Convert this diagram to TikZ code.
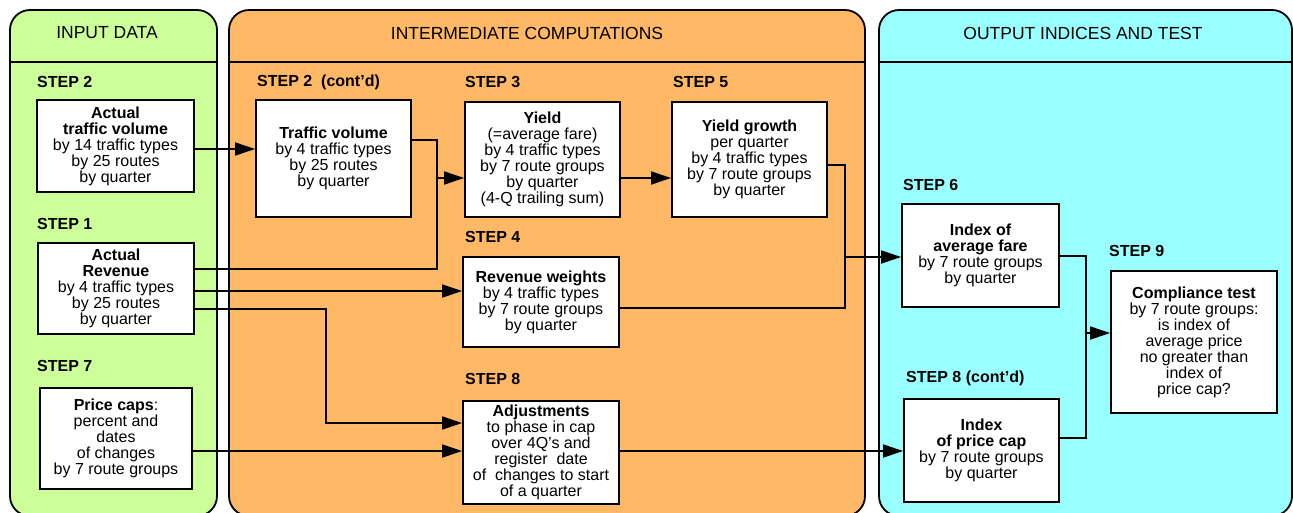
\documentclass[tikz,border=0pt]{standalone}
\usepackage{fontspec}
\setmainfont{Liberation Sans}
\usetikzlibrary{arrows.meta}
\definecolor{pgreen}{RGB}{204,255,153}
\definecolor{porange}{RGB}{255,184,102}
\definecolor{pcyan}{RGB}{153,255,255}
\begin{document}
\begin{tikzpicture}[x=1pt,y=-1pt,
  panel/.style={draw=black,line width=1.8pt,rounded corners=20pt},
  hdr/.style={font=\fontsize{17.5}{20}\selectfont,anchor=center,inner sep=0pt},
  steplabel/.style={font=\fontsize{16}{16}\selectfont\bfseries,anchor=west,inner sep=0pt},
  box/.style={draw=black,fill=white,line width=1.8pt,align=center,inner sep=0pt,
    font=\fontsize{16}{16}\selectfont},
  ln/.style={line width=1.8pt},
  arr/.style={line width=1.8pt,-{Triangle[length=20pt,width=13pt]}}]
\useasboundingbox (0,0) rectangle (1293,512);
% panels
\draw[panel,fill=pgreen] (10,10) rectangle (217,516);
\draw[panel,fill=porange] (229,10) rectangle (865,516);
\draw[panel,fill=pcyan] (879,10) rectangle (1292,516);
\draw[ln] (10,62) -- (217,62);
\draw[ln] (229,62) -- (865,62);
\draw[ln] (879,62) -- (1292,62);
\node[hdr] (h1) at (107,33) {INPUT DATA};
\node[hdr] (h2) at (527,33) {INTERMEDIATE COMPUTATIONS};
\node[hdr] (h3) at (1083,33) {OUTPUT INDICES AND TEST};
% step labels
\node[steplabel] (s2) at (37,82) {STEP 2};
\node[steplabel] (s1) at (37,224) {STEP 1};
\node[steplabel] (s7) at (37,366) {STEP 7};
\node[steplabel] (s2c) at (257,82) {STEP 2\ \ (cont’d)};
\node[steplabel] (s3) at (465,82) {STEP 3};
\node[steplabel] (s5) at (673,82) {STEP 5};
\node[steplabel] (s4) at (465,237) {STEP 4};
\node[steplabel] (s8) at (465,379) {STEP 8};
\node[steplabel] (s6) at (903,185) {STEP 6};
\node[steplabel] (s9) at (1109,251) {STEP 9};
\node[steplabel] (s8c) at (906,378) {STEP 8 (cont’d)};
% boxes
\node[box,minimum width=157pt,minimum height=92pt] (atv) at (115.5,146)
  {\textbf{Actual}\\\textbf{traffic volume}\\by 14 traffic types\\by 25 routes\\by quarter};
\node[box,minimum width=156pt,minimum height=91pt] (rev) at (116,288.5)
  {\textbf{Actual}\\\textbf{Revenue}\\by 4 traffic types\\by 25 routes\\by quarter};
\node[box,minimum width=152pt,minimum height=101pt] (pc) at (116,438.5)
  {\textbf{Price caps}:\\percent and\\dates\\of changes\\by 7 route groups};
\node[box,minimum width=155pt,minimum height=117pt] (tv) at (333.5,158.5)
  {\textbf{Traffic volume}\\by 4 traffic types\\by 25 routes\\by quarter};
\node[box,minimum width=155pt,minimum height=115pt] (yield) at (542.5,159.5)
  {\textbf{Yield}\\(=average fare)\\by 4 traffic types\\by 7 route groups\\by quarter\\(4-Q trailing sum)};
\node[box,minimum width=155pt,minimum height=115pt] (yg) at (749.5,159.5)
  {\textbf{Yield growth}\\per quarter\\by 4 traffic types\\by 7 route groups\\by quarter};
\node[box,minimum width=156pt,minimum height=90pt] (rw) at (541,302)
  {\textbf{Revenue weights}\\by 4 traffic types\\by 7 route groups\\by quarter};
\node[box,minimum width=156pt,minimum height=103pt] (adj) at (541,452.5)
  {\textbf{Adjustments}\\to phase in cap\\over 4Q’s and\\register\ \ date\\of\ \ changes to start\\of a quarter};
\node[box,minimum width=157pt,minimum height=103pt] (iaf) at (980.5,255.5)
  {\textbf{Index of}\\\textbf{average fare}\\by 7 route groups\\by quarter};
\node[box,minimum width=166pt,minimum height=142pt] (ct) at (1194,342)
  {\textbf{Compliance test}\\by 7 route groups:\\is index of\\average price\\no greater than\\index of\\price cap?};
\node[box,minimum width=155pt,minimum height=103pt] (ipc) at (981.5,450.5)
  {\textbf{Index}\\\textbf{of price cap}\\by 7 route groups\\by quarter};
% connector coordinates
\coordinate (a1) at (200,149);
\coordinate (ja) at (437,140);
\coordinate (jb) at (437,269);
\coordinate (jc) at (437,178);
\coordinate (r2) at (300,291);
\coordinate (k1) at (326,309);
\coordinate (k2) at (326,423);
\coordinate (p1) at (300,451);
\coordinate (y1) at (640,178);
\coordinate (m1) at (845,165);
\coordinate (m2) at (845,308);
\coordinate (m3) at (845,257);
\coordinate (n1) at (1086,256);
\coordinate (n2) at (1086,438);
\coordinate (n3) at (1086,333);
\coordinate (q1) at (700,451);
% connectors
\draw[arr] (atv.east|-a1) -- (tv.west|-a1);
\draw[ln] (tv.east|-ja) -- (ja) -- (jb) -- (rev.east|-jb);
\draw[arr] (jc) -- (yield.west|-jc);
\draw[arr] (rev.east|-r2) -- (rw.west|-r2);
\draw[arr] (rev.east|-k1) -- (k1) -- (k2) -- (adj.west|-k2);
\draw[arr] (pc.east|-p1) -- (adj.west|-p1);
\draw[arr] (yield.east|-y1) -- (yg.west|-y1);
\draw[ln] (yg.east|-m1) -- (m1) -- (m2) -- (rw.east|-m2);
\draw[arr] (m3) -- (iaf.west|-m3);
\draw[ln] (iaf.east|-n1) -- (n1) -- (n2) -- (ipc.east|-n2);
\draw[arr] (n3) -- (ct.west|-n3);
\draw[arr] (adj.east|-q1) -- (ipc.west|-q1);
\end{tikzpicture}
\end{document}
